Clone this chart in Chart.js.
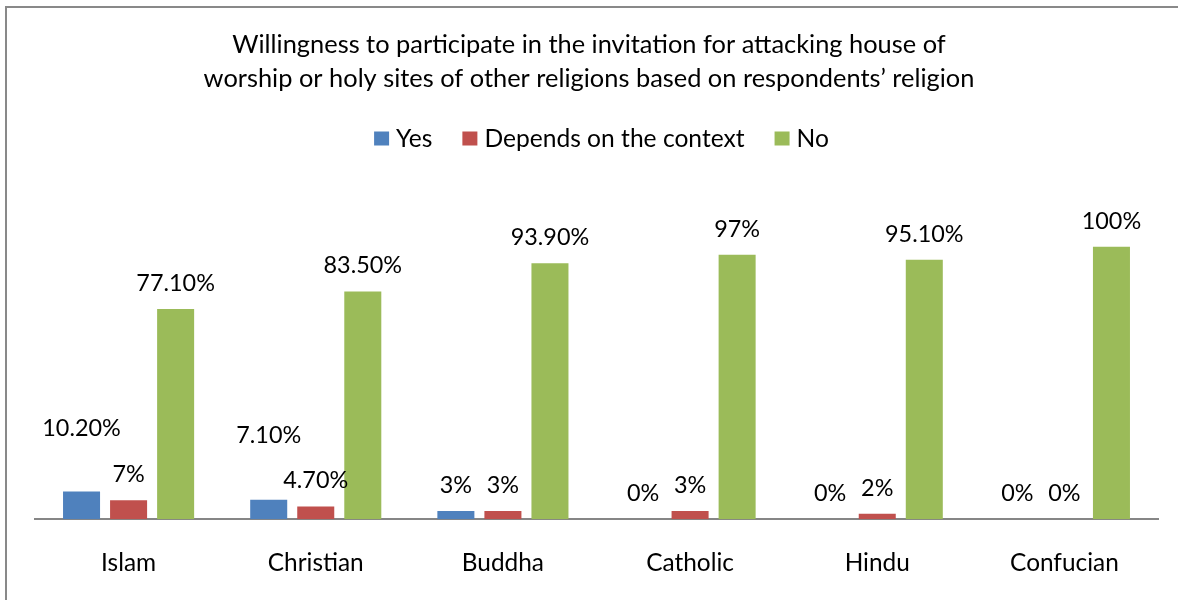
<!DOCTYPE html>
<html>
<head>
<meta charset="utf-8">
<script src="https://cdn.jsdelivr.net/npm/chart.js@4.4.1/dist/chart.umd.min.js"></script>
<style>
  html, body { margin: 0; padding: 0; background: #ffffff; }
  canvas { display: block; }
</style>
</head>
<body>
<canvas id="chart" width="1178" height="600"></canvas>
<script>
// Survey results by respondents' religion (percent of respondents)
const religions = ['Islam', 'Christian', 'Buddha', 'Catholic', 'Hindu', 'Confucian'];
const yesValues = [10.2, 7.1, 3, 0, 0, 0];
const dependsValues = [7, 4.7, 3, 3, 2, 0];
const noValues = [77.1, 83.5, 93.9, 97, 95.1, 100];
const seriesNames = ['Yes', 'Depends on the context', 'No'];
const seriesColors = ['#4F81BD', '#C0504D', '#9BBB59'];
const titleLines = [
  'Willingness to participate in the invitation for attacking house of',
  'worship or holy sites of other religions based on respondents\u2019 religion'
];

const FONT = 'Lato, "Open Sans", sans-serif';

function formatPercent(v) {
  return Number.isInteger(v) ? v + '%' : v.toFixed(2) + '%';
}

// Outer frame, title and legend
const frameAndHeader = {
  id: 'frameAndHeader',
  beforeDraw(chart) {
    const ctx = chart.ctx;
    ctx.save();
    ctx.fillStyle = '#ffffff';
    ctx.fillRect(0, 0, chart.width, chart.height);
    ctx.strokeStyle = '#898989';
    ctx.lineWidth = 2;
    ctx.strokeRect(6, 7, chart.width + 20, chart.height + 20);
    ctx.restore();
  },
  afterDraw(chart) {
    const ctx = chart.ctx;
    ctx.save();
    ctx.fillStyle = '#000000';
    ctx.textAlign = 'center';
    ctx.textBaseline = 'alphabetic';
    ctx.font = '25.4px ' + FONT;
    ctx.fillText(titleLines[0], chart.width / 2, 53);
    ctx.fillText(titleLines[1], chart.width / 2, 87);

    // legend row
    ctx.font = '24.6px ' + FONT;
    ctx.textAlign = 'left';
    const box = 15, textGap = 7, itemGap = 30;
    const widths = seriesNames.map(n => box + textGap + ctx.measureText(n).width);
    const total = widths.reduce((a, b) => a + b, 0) + itemGap * (seriesNames.length - 1);
    let x = 601.5 - total / 2;
    const baseline = 146.5;
    seriesNames.forEach((name, i) => {
      ctx.fillStyle = seriesColors[i];
      ctx.fillRect(x, baseline - 15, box, 14);
      ctx.fillStyle = '#000000';
      ctx.fillText(name, x + box + textGap, baseline);
      x += widths[i] + itemGap;
    });
    ctx.restore();
  }
};

// Value labels above each bar
const valueLabels = {
  id: 'valueLabels',
  afterDatasetsDraw(chart, args, opts) {
    const ctx = chart.ctx;
    ctx.save();
    ctx.fillStyle = '#000000';
    ctx.textAlign = 'center';
    ctx.textBaseline = 'alphabetic';
    ctx.font = '23.4px ' + FONT;
    chart.data.datasets.forEach((ds, di) => {
      const meta = chart.getDatasetMeta(di);
      meta.data.forEach((bar, i) => {
        const lift = (opts.lift[di] && opts.lift[di][i]) || 0;
        ctx.fillText(formatPercent(ds.data[i]), bar.x, bar.y - 18 - lift);
      });
    });
    ctx.restore();
  }
};

new Chart(document.getElementById('chart'), {
  type: 'bar',
  data: {
    labels: religions,
    datasets: [
      { label: seriesNames[0], data: yesValues, backgroundColor: seriesColors[0] },
      { label: seriesNames[1], data: dependsValues, backgroundColor: seriesColors[1] },
      { label: seriesNames[2], data: noValues, backgroundColor: seriesColors[2] }
    ]
  },
  options: {
    responsive: false,
    animation: false,
    events: [],
    categoryPercentage: 0.754,
    barPercentage: 0.787,
    layout: { padding: { top: 246.5, left: 35, right: 20, bottom: -6.5 } },
    plugins: {
      legend: { display: false },
      title: { display: false },
      tooltip: { enabled: false },
      valueLabels: { lift: { 0: { 0: 37, 1: 39 } } }
    },
    scales: {
      x: {
        grid: { display: false, drawTicks: false },
        border: { display: true, color: '#868686', width: 2 },
        ticks: { color: '#000000', padding: 29, font: { family: FONT, size: 24.4 } }
      },
      y: {
        display: false,
        min: 0,
        max: 100
      }
    }
  },
  plugins: [frameAndHeader, valueLabels]
});
</script>
</body>
</html>
